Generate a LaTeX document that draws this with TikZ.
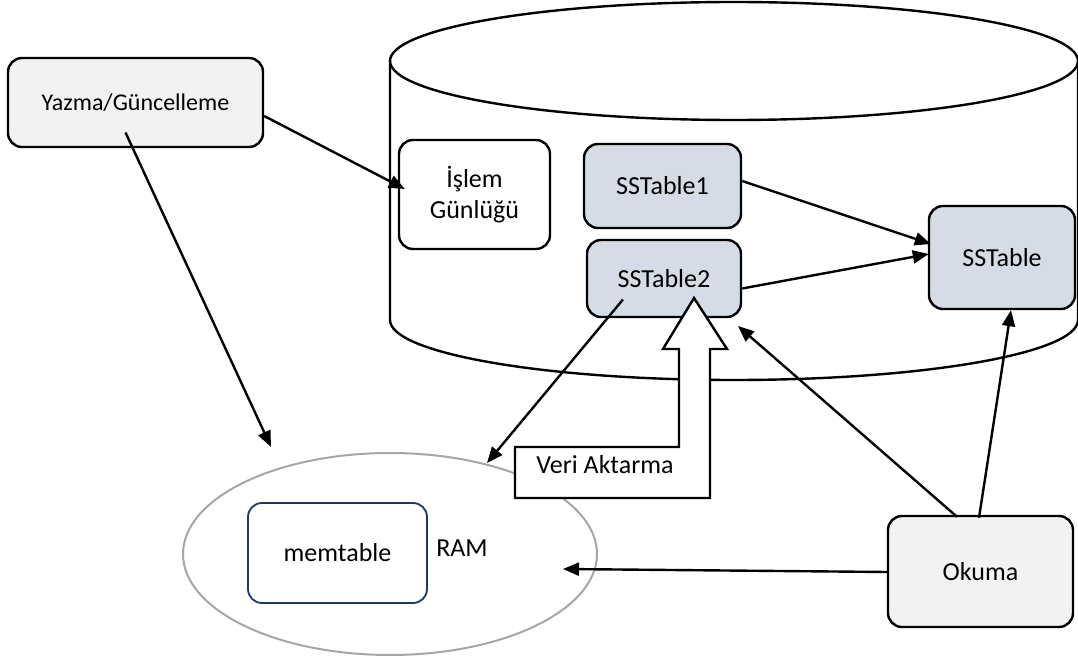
\documentclass[tikz,border=0pt]{standalone}
\usepackage{fontspec}
\setmainfont{Carlito}
\usetikzlibrary{arrows.meta,shapes.geometric,calc}
\definecolor{boxgray}{HTML}{F2F2F2}
\definecolor{sstfill}{HTML}{D6DCE5}
\definecolor{navyline}{HTML}{1F3864}
\definecolor{ramgray}{HTML}{A6A6A6}
\begin{document}
\begin{tikzpicture}[x=0.5pt,y=-0.5pt,
  box/.style={draw=black,line width=1.2pt,rounded corners=7pt,align=center,
    font=\fontsize{13}{15.6}\selectfont,inner sep=0pt},
  lbl/.style={font=\fontsize{13}{15.6}\selectfont,inner sep=0pt},
  arr/.style={line width=1.2pt,-{Triangle[length=8pt,width=6.5pt]}},
  cyl/.style={draw=black,line width=1.2pt}]
\useasboundingbox (0,0) rectangle (1078,663);
% cylinder
\path[cyl,fill=white] (390,61) -- (390,320) arc[start angle=180,end angle=0,x radius=344,y radius=60] -- (1078,61);
\draw[cyl] (734,61) ellipse[x radius=344,y radius=59];
% boxes
\node[box,fill=boxgray,minimum width=127.5pt,minimum height=44.5pt,font=\fontsize{12}{14}\selectfont] (yazma) at (135.5,102.5) {Yazma/Güncelleme};
\node[box,fill=white,minimum width=75.5pt,minimum height=54.5pt] (islem) at (474.5,194.5) {İşlem\\Günlüğü};
\node[box,fill=sstfill,minimum width=78.5pt,minimum height=42pt] (sst1) at (662.5,186) {SSTable1};
\node[box,fill=sstfill,minimum width=77pt,minimum height=38.5pt] (sst2) at (664,278.5) {SSTable2};
\node[box,fill=sstfill,minimum width=73pt,minimum height=51.5pt] (sst) at (1002,257.5) {SSTable};
\node[box,fill=boxgray,minimum width=92.5pt,minimum height=55.5pt] (okuma) at (980.5,571.5) {Okuma};
% RAM
\node[ellipse,draw=ramgray,line width=1pt,minimum width=207pt,minimum height=101pt,inner sep=0pt] (ram) at (390,554) {};
\node[box,draw=navyline,line width=0.9pt,fill=white,minimum width=89.5pt,minimum height=50pt] (mem) at (337.5,553) {memtable};
\node[lbl] (ramlbl) at (462,548) {RAM};
% block arrow
\draw[line width=1.2pt,fill=white] (694,298) -- (727,349) -- (710,349) -- (710,498) -- (515,498) -- (515,447) -- (679,447) -- (679,349) -- (663,349) -- cycle;
\node[lbl] (veri) at (605,465) {Veri Aktarma};
% connectors
\coordinate (cylpt) at (738,326);
\draw[arr] ($(yazma.east)+(0,13.5)$) -- ($(islem.west)+(7,-5.5)$);
\draw[arr] ($(yazma.center)+(-10,30)$) -- ($(ram.center)+(-119,-107)$);
\draw[arr] ($(sst1.east)+(0,-5)$) -- ($(sst.west)+(3,-13.5)$);
\draw[arr] ($(sst2.east)+(0,10)$) -- ($(sst.west)+(1,-3.5)$);
\draw[arr] ($(sst2.center)+(-41,21)$) -- ($(ram.center)+(97,-91)$);
\draw[arr] ($(okuma.north)+(-23.5,2)$) -- (cylpt);
\draw[arr] ($(okuma.north)+(-1.5,3)$) -- ($(sst.south)+(9,0)$);
\draw[arr] ($(okuma.west)+(0,0.5)$) -- ($(ram.center)+(173,15)$);
\end{tikzpicture}
\end{document}
